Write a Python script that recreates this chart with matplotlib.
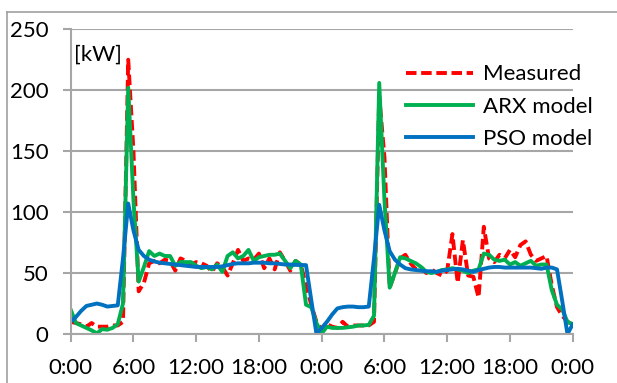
import matplotlib
matplotlib.use('Agg')
import matplotlib.pyplot as plt
from matplotlib.lines import Line2D

hours = [i * 0.5 for i in range(97)]

measured = [10, 9, 8, 6, 9, 6, 6, 6, 7, 7,
            10, 225, 150, 35, 42, 58, 60, 58, 61, 60,
            52, 62, 60, 57, 59, 58, 56, 51, 58, 55,
            48, 58, 69, 60, 62, 61, 66, 54, 62, 53,
            67, 60, 52, 60, 57, 40, 24, 10, 3, 8,
            6, 5, 10, 6, 7, 7, 7, 7, 10, 195,
            145, 38, 50, 62, 65, 58, 53, 55, 50, 53,
            50, 48, 52, 82, 42, 77, 48, 47, 30, 88,
            62, 59, 65, 62, 69, 63, 73, 76, 65, 60,
            62, 64, 40, 22, 15, 10, 8]

arx = [20, 9, 7, 5, 3, 0.5, 4, 3.5, 5, 8,
       25, 202, 110, 43, 55, 68, 64, 66, 64, 64,
       56, 59, 59, 59, 56, 54, 55, 53, 57, 51,
       64, 67, 62, 64, 69, 60, 63, 64, 65, 65,
       66, 60, 54, 60, 57, 24, 22, 9, 0.5, 6,
       5, 5, 5, 5.5, 6, 7, 7, 7.5, 15, 206,
       110, 38, 50, 63, 62, 60, 58, 55, 51, 50,
       51, 52.5, 53, 54, 53, 52, 50, 52, 53, 66,
       65, 61, 60, 61, 57, 59, 56, 58, 60, 56,
       57, 57, 36, 24, 20, 10, 8]

pso = [10, 14, 19, 23, 24, 25, 24, 22.5, 23, 23.5,
       62, 107, 85, 69, 64, 61, 59.5, 58.5, 58, 57.5,
       57, 56.5, 56, 55.5, 55, 55, 55, 55, 55, 55.5,
       56.5, 57.5, 58, 58, 58, 58.5, 58.5, 58.5, 58, 58,
       57.5, 57, 57, 56.7, 56.6, 56.5, 28, 0, 5, 10,
       16, 21, 22, 22.5, 22.5, 22, 22, 22.5, 62, 106,
       85, 68, 61, 57, 54, 53, 52.5, 52, 51.5, 51.5,
       51, 52, 52.5, 53, 53.5, 53, 52, 51, 52.5, 53.5,
       54.5, 55, 55, 54.5, 54.5, 54.5, 54.5, 54.5, 54.5, 54,
       53.5, 54.5, 54.5, 53, 27, 0, 8]

tick_hours = [0, 6, 12, 18, 24, 30, 36, 42, 48]
tick_labels = ['0:00', '6:00', '12:00', '18:00', '0:00', '6:00', '12:00', '18:00', '0:00']
y_ticks = [0, 50, 100, 150, 200, 250]

plt.rcParams['font.family'] = ['Lato', 'DejaVu Sans']
fig = plt.figure(figsize=(6.17, 3.83), dpi=100)
ax = fig.add_axes([70.7 / 617, 49 / 383, 502 / 617, 304.7 / 383])

grid_color = '#A6A6A6'
ax.set_xlim(0, 48)
ax.set_ylim(0, 250)
ax.set_yticks(y_ticks)
ax.set_xticks(tick_hours)
ax.set_xticklabels(tick_labels)
ax.grid(axis='y', color=grid_color, lw=1.5, zorder=0)
ax.set_axisbelow(True)
for s in ['top', 'right']:
    ax.spines[s].set_visible(False)
for s in ['left', 'bottom']:
    ax.spines[s].set_color(grid_color)
    ax.spines[s].set_linewidth(1.5)
ax.tick_params(axis='both', length=6, width=1.5, color=grid_color,
               labelsize=16, labelcolor='black')
ax.tick_params(axis='y', pad=10)
ax.tick_params(axis='x', pad=11)

ax.plot(hours, measured, color='#FF0000', lw=2.8, dashes=(2.7, 1.2), label='Measured')
ax.plot(hours, arx, color='#00B050', lw=2.8, solid_joinstyle='round', label='ARX model')
ax.plot(hours, pso, color='#0070C0', lw=2.8, solid_joinstyle='round', label='PSO model')

ax.text(0.3, 229, '[kW]', fontsize=16, va='center', ha='left')

ax.legend(loc='upper left', bbox_to_anchor=(0.668, 0.885), frameon=False,
          fontsize=16, handlelength=3.0, handletextpad=0.45, labelspacing=0.55,
          borderaxespad=0, borderpad=0)

border = '#A0A0A0'
fig.add_artist(Line2D([6.5 / 617, 6.5 / 617], [0, 1 - 11.5 / 383],
                      transform=fig.transFigure, color=border, lw=1.2))
fig.add_artist(Line2D([6.5 / 617, 1], [1 - 11.5 / 383, 1 - 11.5 / 383],
                      transform=fig.transFigure, color=border, lw=1.2))

fig.savefig('out.png', dpi=100)
